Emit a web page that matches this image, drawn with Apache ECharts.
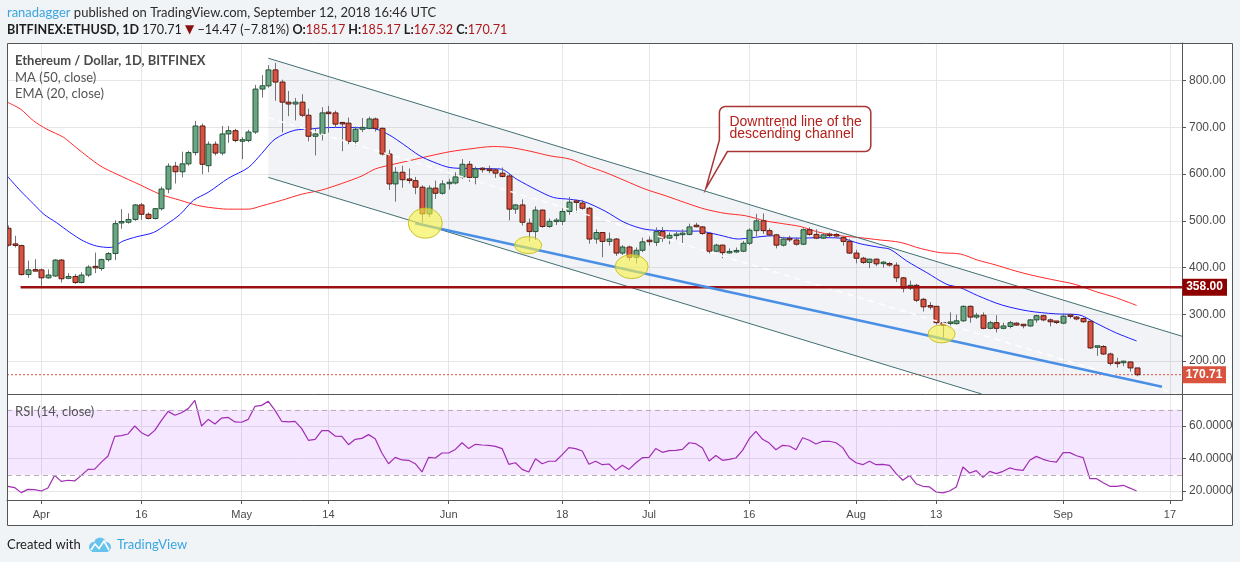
<!DOCTYPE html>
<html><head><meta charset="utf-8">
<script src="https://cdn.jsdelivr.net/npm/echarts@6.0.0/dist/echarts.min.js"></script>
<style>
html,body{margin:0;padding:0;background:#f1f4f7;}
#paper{position:absolute;left:7px;top:43px;width:1225px;height:482px;background:#fff;}
#c{position:absolute;left:0;top:0;width:1240px;height:562px;}
</style>
</head><body><div id="paper"></div><div id="c"></div>
<script>
// ---------------- DATA ----------------
const startDate = '2018-03-27';
const opens = [484,449,447,385,394,395,378,382,416,377,381,368,384,401,398,417,430,494,497,503,534,514,505,526,568,617,605,622,646,703,618,664,645,686,693,671,672,690,782,789,823,797,754,750,754,726,681,686,731,731,709,709,670,696,698,718,698,643,579,604,588,586,572,515,570,559,579,581,594,621,593,611,609,609,602,596,525,534,495,477,523,488,499,499,520,541,538,527,461,475,456,461,431,444,422,437,457,454,477,463,469,470,471,489,487,473,435,448,432,433,435,452,479,500,479,470,448,461,459,450,481,471,463,470,469,464,456,431,420,411,418,409,407,405,378,356,362,332,317,317,282,279,280,286,317,294,298,270,282,270,274,281,277,275,288,297,288,284,281,297,294,291,285,228,231,215,196,195,198,185.17];
const highs = [490,468,449,415,418,398,396,418,418,388,386,390,405,432,419,433,501,525,516,536,538,518,527,573,623,626,648,650,714,708,670,670,703,703,697,679,695,791,812,833,838,802,778,763,771,740,697,743,746,736,711,721,702,720,723,721,700,652,615,618,612,594,576,576,586,587,590,604,632,628,616,615,618,612,614,600,536,546,505,531,524,505,506,527,551,545,545,530,482,476,475,463,448,447,443,464,466,486,487,475,477,482,494,496,489,474,451,449,441,443,457,484,515,516,484,472,466,468,465,484,486,482,473,475,474,467,461,438,423,419,419,414,412,411,380,372,365,335,326,318,283,304,299,319,319,303,304,286,298,282,286,283,278,290,299,299,291,286,301,301,296,293,287,232,234,218,207,201,199,185.17];
const lows = [445,443,383,378,392,361,376,380,368,375,365,366,380,388,393,413,416,483,494,500,502,503,503,522,559,580,593,618,640,600,604,640,640,667,668,632,668,686,764,785,757,689,724,715,722,670,640,672,689,699,649,664,661,690,696,691,640,566,541,571,580,557,496,508,547,556,567,578,590,584,578,603,602,592,593,501,515,490,456,459,485,485,491,491,513,517,524,451,451,422,447,425,427,415,409,433,447,446,455,450,460,452,469,486,470,430,433,420,430,431,433,448,467,472,467,441,445,455,447,448,468,461,461,465,463,447,429,409,408,399,403,400,402,369,347,352,326,306,310,278,250,276,278,284,282,290,268,268,261,268,270,275,270,273,282,285,274,279,279,291,287,282,226,211,213,190,186,189,177,167.32];
const closes = [448,447,385,395,393,378,384,416,376,381,368,384,401,398,417,430,494,497,503,534,514,505,526,568,617,605,622,646,703,621,664,645,686,693,672,672,690,782,789,823,797,754,750,754,726,681,686,731,730,707,707,670,696,700,718,698,643,579,604,588,586,572,515,570,559,579,581,594,621,593,611,609,607,602,595,525,534,497,477,523,488,499,500,520,540,538,527,461,475,456,461,431,444,422,437,455,455,477,463,469,470,472,487,487,473,435,448,432,433,435,452,480,500,479,470,448,461,459,450,481,471,463,470,469,467,456,431,420,411,418,408,410,404,378,356,362,330,316,316,282,276,282,286,317,294,298,270,282,270,275,282,277,275,288,297,288,284,281,296,294,290,284,228,231,215,195,194,198,185.18,170.71];
const rsiValues = [22.9,22.1,19.0,21.0,20.8,
20.0,21.8,29.6,25.9,26.6,26.2,29.6,33.3,33.5,37.8,
41.5,53.6,54.1,55.1,60.0,55.9,53.8,57.3,63.5,69.0,
66.6,68.2,70.7,75.8,60.0,64.1,61.2,64.9,65.3,62.5,
62.3,64.1,72.1,72.7,75.2,69.6,62.9,62.5,62.9,58.4,
51.2,51.8,57.1,57.1,53.8,53.6,48.5,51.8,52.4,54.7,
52.2,43.4,36.8,40.7,39.1,38.9,36.8,31.7,40.7,40.3,
43.4,43.4,45.6,49.7,46.1,48.7,48.3,48.1,47.5,46.1,
36.4,37.4,33.3,31.7,39.9,36.8,38.3,38.3,42.4,46.7,
46.1,44.6,36.5,38.3,36.2,36.6,32.7,35.8,33.3,37.2,
40.5,40.7,46.1,43.8,44.8,45.0,45.6,49.7,49.1,46.5,
38.5,41.9,38.9,39.5,40.3,45.0,52.2,56.7,51.8,49.5,
45.4,48.1,47.7,45.4,52.8,51.2,48.9,50.6,50.6,49.7,
46.7,40.3,37.4,36.2,38.3,36.2,36.4,35.8,30.7,26.6,
29.6,24.5,22.9,22.5,19.4,18.8,20.0,22.5,34.8,31.1,
32.5,28.4,32.1,30.7,32.1,34.2,33.1,32.7,38.9,41.3,
39.5,38.3,37.8,43.6,43.6,41.7,40.5,27.6,27.6,25.1,
22.9,22.9,23.5,21.8,20.0];
const maDays = [-5.1,-3.1,-1.15,0.85,3.3,5.3,8.8,11.3,14.8,17.8,20.8,23.4,25,28,31,33,36,39,42,45,48,50,52.1,55.2,58.2,61.2,64.2,67.7,70.2,73.2,76.2,79.2,81.8,84.4,87.4,90.4,93.4,96.4,99.4,102.4,105.4,108.4,111,113.6,116.6,119.6,122.6,125.6,128.6,131.6,134.6,137.6,140.2,142.8,145.8,148.8,151.8,154.8,157.8,160.8,164];
const maValues = [754,739,714,696,679,656,618,600,577,557,544,533,529,525,525,532,544,557,566,580,596,611,619,629,639,648,654,659,657,649,639,632,617,604,586,568,554,539,525,516,511,500,494,488,475,468,464,459,454,441,432,429,416,406,393,382,373,364,349,336,319];
const emaDays = [-5.1,-3.1,-1.15,0.4,2.3,4.3,6.3,8.3,10.3,12.3,14.3,16.8,18.8,20.8,22.8,25,28,31,33,35,38,40,42,45,48,50,52.2,54.2,56.7,58.7,61.2,64.2,68.7,71.2,74.2,76.7,79.2,81.3,84.4,87.4,90.4,93.4,96.4,98.4,101.4,104.4,106.4,109.4,111,113.6,116.6,119.6,122.6,125.6,127.1,129.6,132.6,135.6,137.6,140.2,143.8,147.8,151.8,155.3,157.8,160.8,164];
const emaValues = [596,564,536,514,496,475,457,446,443,457,466,475,493,514,544,561,591,614,644,675,694,696,699,700,699,697,683,664,639,626,614,612,611,589,566,550,546,541,521,496,482,479,478,478,470,461,464,468,464,463,464,463,451,443,439,414,389,364,357,340,320,307,301,299,282,261,243];
const tickDates = ['2018-04-01','2018-04-16','2018-05-01','2018-05-14','2018-06-01','2018-06-18','2018-07-01','2018-07-16','2018-08-01','2018-08-13','2018-09-01','2018-09-17'];
const tickLabels = ['Apr','16','May','14','Jun','18','Jul','16','Aug','13','Sep','17'];
const priceTicks = [200,300,400,500,600,700,800];
const rsiTicks = [20,40,60];
const rsiBand = [30,70];
const supportLevel = 358;
const supportStart = -3.1;
const channelUpper = [[34,848],[170.8,253]];
const channelLower = [[34,593],[140.8,129.4]];
const channelMid = [[34,720.5],[169.9,129.4]];
const trendLine = [[56,495],[167.8,145]];
const highlightPoints = [[57.5,495],[72.9,448],[88.4,402],[134.8,258]];
const calloutAnchor = [99.5,569];
const calloutLines = ['Downtrend line of the','descending channel'];

// ---------------- STYLE / LAYOUT ----------------
const ellipseSizes = [[17,15],[13.5,8.5],[16.5,12],[13.5,9]];
const X_MIN = -5.13, X_MAX = 170.8;
const P_MIN = 129.4, P_MAX = 880.6;
const R_MIN = 14.46, R_MAX = 79.7;
const FONT = 'Liberation Sans, Arial, sans-serif';
const HFONT = 'Lato, sans-serif';

const DAY = 86400000;
const ORIGIN = Date.UTC(2018,3,1);
function dayOf(s){const a=s.split('-').map(Number);return Math.round((Date.UTC(a[0],a[1]-1,a[2])-ORIGIN)/DAY);}
const firstDay = dayOf(startDate);
const candleData = opens.map((o,i)=>[firstDay+i,o,closes[i],lows[i],highs[i]]);
const rsiData = rsiValues.map((v,i)=>[firstDay+i,v]);
const maData = maDays.map((d,i)=>[d,maValues[i]]);
const emaData = emaDays.map((d,i)=>[d,emaValues[i]]);
const tickDays = tickDates.map(dayOf);
const lastIdx = closes.length-1;
const lastClose = closes[lastIdx];

const chart = echarts.init(document.getElementById('c'));

function lineSeries(data,color,width,extra){
  return Object.assign({type:'line',xAxisIndex:0,yAxisIndex:0,data:data,symbol:'none',silent:true,
    lineStyle:{color:color,width:width},z:3},extra||{});
}

const option = {
  animation:false,
  backgroundColor:'transparent',
  grid:[{left:7,top:43,width:1175,height:351},{left:7,top:394,width:1175,height:106}],
  xAxis:[
    {type:'value',gridIndex:0,min:X_MIN,max:X_MAX,axisLine:{show:false},
     axisTick:{show:false,customValues:tickDays},axisLabel:{show:false,customValues:tickDays},
     splitLine:{show:true,lineStyle:{color:'#e6e6e6'}}},
    {type:'value',gridIndex:1,min:X_MIN,max:X_MAX,
     axisLine:{show:true,onZero:false,lineStyle:{color:'#555'}},
     axisTick:{show:true,length:4,customValues:tickDays,lineStyle:{color:'#555'}},
     axisLabel:{customValues:tickDays,margin:9,color:'#4a4a4a',fontSize:11,fontFamily:FONT,
       formatter:v=>{const i=tickDays.indexOf(Math.round(v));return i>=0?tickLabels[i]:'';}},
     splitLine:{show:true,lineStyle:{color:'#e6e6e6'}}}
  ],
  yAxis:[
    {type:'value',gridIndex:0,position:'right',min:P_MIN,max:P_MAX,
     axisLine:{show:true,onZero:false,lineStyle:{color:'#555'}},
     axisTick:{show:true,length:4,customValues:priceTicks,lineStyle:{color:'#555'}},
     axisLabel:{customValues:priceTicks,margin:7,color:'#4a4a4a',fontSize:12,fontFamily:FONT,formatter:v=>v.toFixed(2)},
     splitLine:{show:true,lineStyle:{color:'#e6e6e6'}}},
    {type:'value',gridIndex:1,position:'right',min:R_MIN,max:R_MAX,
     axisLine:{show:true,onZero:false,lineStyle:{color:'#555'}},
     axisTick:{show:true,length:4,customValues:rsiTicks,lineStyle:{color:'#555'}},
     axisLabel:{customValues:rsiTicks,margin:7,color:'#4a4a4a',fontSize:12,fontFamily:FONT,formatter:v=>v.toFixed(4)},
     splitLine:{show:true,lineStyle:{color:'#e6e6e6'}}}
  ],
  series:[
    {type:'custom',name:'channelFill',xAxisIndex:0,yAxisIndex:0,data:[[0]],clip:true,silent:true,z:1,
     renderItem:function(params,api){
       const pts=[api.coord(channelUpper[0]),api.coord(channelUpper[1]),api.coord([channelUpper[1][0],P_MIN]),
                  api.coord(channelLower[1]),api.coord(channelLower[0])];
       return {type:'polygon',shape:{points:pts},style:{fill:'rgba(110,125,150,0.09)'}};
     }},
    lineSeries(maData,'#ff2a2a',1,{smooth:0.3,z:2}),
    lineSeries(emaData,'#1c1cff',1,{smooth:0.3,z:2}),
    lineSeries([[X_MIN,lastClose],[X_MAX,lastClose]],'#e2513f',1,{lineStyle:{color:'#e2513f',width:1,type:[2,2]},z:2}),
    {type:'custom',name:'candles',xAxisIndex:0,yAxisIndex:0,data:candleData,clip:true,silent:true,z:4,
     encode:{x:0,y:[1,2,3,4]},
     renderItem:function(params,api){
       const d=api.value(0),o=api.value(1),c=api.value(2),l=api.value(3),h=api.value(4);
       const ph=api.coord([d,h]),pl=api.coord([d,l]),po=api.coord([d,o]),pc=api.coord([d,c]);
       const up=c>=o, w=5, cx=Math.round(ph[0])+0.5;
       let y1=Math.min(po[1],pc[1]), hh=Math.abs(po[1]-pc[1]); if(hh<1.5){y1-=0.75;hh=1.5;}
       return {type:'group',children:[
         {type:'line',shape:{x1:cx,y1:ph[1],x2:cx,y2:pl[1]},style:{stroke:'#737375',lineWidth:1}},
         {type:'rect',shape:{x:cx-w/2,y:y1,width:w,height:hh},
          style:{fill:up?'#6ba583':'#d75442',stroke:up?'#225437':'#5b1a13',lineWidth:1}}
       ]};
     }},
    lineSeries(channelUpper,'#3f6f72',1,{z:5}),
    lineSeries(channelLower,'#3f6f72',1,{z:5}),
    lineSeries(channelMid,'#ffffff',1.5,{lineStyle:{color:'rgba(255,255,255,0.95)',width:1.5,type:[6,5]},z:5}),
    lineSeries([[supportStart,supportLevel],[X_MAX,supportLevel]],'#9b1111',2.5,{z:5}),
    lineSeries(trendLine,'#4a8fe6',2.5,{z:5}),
    {type:'custom',name:'highlights',xAxisIndex:0,yAxisIndex:0,data:highlightPoints,silent:true,z:6,
     renderItem:function(params,api){
       const p=api.coord([api.value(0),api.value(1)]);
       const s=ellipseSizes[params.dataIndex];const rx=s[0],ry=s[1];
       const path='M'+(p[0]-rx)+' '+p[1]+' A'+rx+' '+ry+' 0 1 0 '+(p[0]+rx)+' '+p[1]+' A'+rx+' '+ry+' 0 1 0 '+(p[0]-rx)+' '+p[1]+' Z';
       return {type:'path',shape:{pathData:path},style:{fill:'rgba(246,240,70,0.62)',stroke:'#c9c12c',lineWidth:1}};
     }},
    {type:'line',name:'RSI',xAxisIndex:1,yAxisIndex:1,data:rsiData,symbol:'none',silent:true,z:3,
     lineStyle:{color:'#a22db5',width:1.2},
     markArea:{silent:true,itemStyle:{color:'rgba(153,21,255,0.1)'},data:[[{yAxis:rsiBand[0]},{yAxis:rsiBand[1]}]]},
     markLine:{silent:true,symbol:'none',label:{show:false},lineStyle:{color:'#b5aeb9',type:[5,4],width:1},
       data:[{yAxis:rsiBand[1]},{yAxis:rsiBand[0]}]}}
  ]
};
chart.setOption(option);

// ---------------- ANNOTATIONS / TEXT ----------------
const tip = chart.convertToPixel({xAxisIndex:0,yAxisIndex:0},calloutAnchor);
const bx = tip[0]+13.6, by = tip[1]-82, bw = 151.4, bh = 45, r = 6;
function arcPts(cx,cy,rad,a0,a1){const out=[];for(let k=0;k<=6;k++){const a=a0+(a1-a0)*k/6;out.push([cx+rad*Math.cos(a),cy+rad*Math.sin(a)]);}return out;}
const PI=Math.PI;
const calloutPts = [].concat(
  arcPts(bx+r,by+r,r,PI,1.5*PI),
  arcPts(bx+bw-r,by+r,r,1.5*PI,2*PI),
  arcPts(bx+bw-r,by+bh-r,r,0,0.5*PI),
  [[bx+8,by+bh],[tip[0],tip[1]],[bx,by+bh-11.7]]
);
const ySup = chart.convertToPixel({yAxisIndex:0},supportLevel);
const yLast = chart.convertToPixel({yAxisIndex:0},lastClose);
const prevClose = closes[lastIdx-1];
const chg = lastClose-prevClose, pct = chg/prevClose*100;
const fmtSigned = v => (v<0?'\u2212':'+')+Math.abs(v).toFixed(2);

chart.setOption({graphic:[
  {type:'rect',shape:{x:7.5,y:43.5,width:1225,height:482},style:{fill:'none',stroke:'#555',lineWidth:1},z:100,silent:true},
  {type:'line',shape:{x1:7,y1:394.5,x2:1232,y2:394.5},style:{stroke:'#555',lineWidth:1},z:100,silent:true},
  {type:'text',x:7,y:13,z:100,style:{text:'{u|ranadagger}{n| published on TradingView.com, September 12, 2018 16:46 UTC}',
    verticalAlign:'middle',rich:{u:{fill:'#3ba5e0',fontSize:13,fontFamily:HFONT},n:{fill:'#2b2b2b',fontSize:13,fontFamily:HFONT}}}},
  {type:'text',x:7,y:30,z:100,style:{
    text:'{b|BITFINEX:ETHUSD, 1D}{n| '+lastClose.toFixed(2)+' }{t|\u25BC}{n| '+fmtSigned(chg)+' ('+fmtSigned(pct)+'%) }{b|O:}{v|'+opens[lastIdx].toFixed(2)+'}{b| H:}{v|'+highs[lastIdx].toFixed(2)+'}{b| L:}{v|'+lows[lastIdx].toFixed(2)+'}{b| C:}{v|'+lastClose.toFixed(2)+'}',
    verticalAlign:'middle',
    rich:{b:{fill:'#1e1e1e',fontWeight:'bold',fontSize:12.6,fontFamily:HFONT},
          n:{fill:'#1e1e1e',fontSize:12.6,fontFamily:HFONT},
          t:{fill:'#8b0f0f',fontSize:12,fontFamily:'DejaVu Sans, sans-serif'},
          v:{fill:'#b0171b',fontSize:12.6,fontFamily:HFONT}}}},
  {type:'text',x:15,y:61,z:100,style:{text:'Ethereum / Dollar, 1D, BITFINEX',fill:'#4a4a4a',fontWeight:'bold',fontSize:13,fontFamily:HFONT,verticalAlign:'middle'}},
  {type:'text',x:15,y:77.5,z:100,style:{text:'MA (50, close)',fill:'#555',fontSize:13,fontFamily:HFONT,verticalAlign:'middle'}},
  {type:'text',x:15,y:94,z:100,style:{text:'EMA (20, close)',fill:'#555',fontSize:13,fontFamily:HFONT,verticalAlign:'middle'}},
  {type:'text',x:15,y:412,z:100,style:{text:'RSI (14, close)',fill:'#555',fontSize:13,fontFamily:HFONT,verticalAlign:'middle'}},
  {type:'polygon',z:100,shape:{points:calloutPts},style:{fill:'#fff',stroke:'#a83434',lineWidth:1.5}},
  {type:'text',x:bx+10,y:by+15.5,z:101,style:{text:calloutLines[0],fill:'#b3211b',fontSize:14,fontFamily:FONT,verticalAlign:'middle'}},
  {type:'text',x:bx+10,y:by+28,z:101,style:{text:calloutLines[1],fill:'#b3211b',fontSize:14,fontFamily:FONT,verticalAlign:'middle'}},
  {type:'rect',z:100,shape:{x:1182.5,y:ySup-8.5,width:44.5,height:17},style:{fill:'#8e0000'}},
  {type:'text',z:101,x:1204.5,y:ySup,style:{text:supportLevel.toFixed(2),fill:'#fff',fontWeight:'bold',fontSize:12,fontFamily:FONT,align:'center',verticalAlign:'middle'}},
  {type:'rect',z:100,shape:{x:1182.5,y:yLast-8.5,width:43.5,height:17},style:{fill:'#d9533f'}},
  {type:'text',z:101,x:1204,y:yLast,style:{text:lastClose.toFixed(2),fill:'#fff',fontWeight:'bold',fontSize:12,fontFamily:FONT,align:'center',verticalAlign:'middle'}},
  {type:'text',x:7,y:545,z:100,style:{text:'Created with',fill:'#222',fontSize:13,fontFamily:HFONT,verticalAlign:'middle'}},
  {type:'circle',z:100,shape:{cx:94,cy:547,r:5},style:{fill:'#66c3ee'}},
  {type:'circle',z:100,shape:{cx:100,cy:543.5,r:6},style:{fill:'#66c3ee'}},
  {type:'circle',z:100,shape:{cx:106,cy:547,r:5},style:{fill:'#66c3ee'}},
  {type:'rect',z:100,shape:{x:92,y:547,width:16,height:5},style:{fill:'#66c3ee'}},
  {type:'polyline',z:101,shape:{points:[[91,550],[95,544],[99,548.5],[104,541],[109,550]]},style:{stroke:'#fff',lineWidth:1.6,fill:'none'}},
  {type:'text',x:117,y:545,z:100,style:{text:'TradingView',fill:'#3ba5e0',fontSize:13,fontFamily:HFONT,verticalAlign:'middle'}}
]});
</script>
</body></html>
